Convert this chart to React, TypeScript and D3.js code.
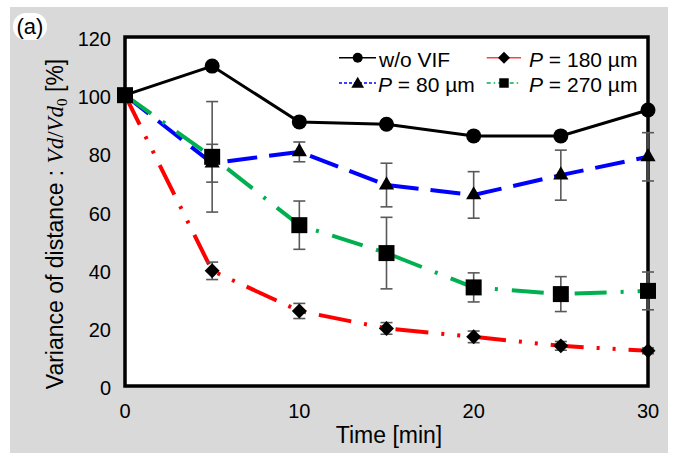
import React from "react";
import * as d3 from "d3";

const times = [0, 5, 10, 15, 20, 25, 30];
const woVIF = [100, 110, 90.8, 90, 86, 86, 94.9];
const p80 = [100, 76.6, 80.5, 69.1, 65.7, 72.5, 78.8];
const p80Err = [0, 6.5, 3.4, 7.5, 8, 8.6, 8.3];
const p180 = [100, 39.6, 25.8, 19.8, 16.9, 13.8, 12.1];
const p180Err = [0, 3, 2.6, 2, 2, 1.5, 1];
const p270 = [100, 78.8, 55.3, 45.7, 33.9, 31.6, 32.7];
const p270Err = [0, 19, 8.3, 12.3, 5, 6, 6.5];
const xTicks = [0, 10, 20, 30];
const yTicks = [0, 20, 40, 60, 80, 100, 120];

const W = 678, H = 453;
const L = 125, R = 648, T = 37, B = 386;

export default function App() {
  const x = d3.scaleLinear().domain([0, 30]).range([L, R]);
  const y = d3.scaleLinear().domain([0, 120]).range([B, T]);
  const line = d3.line<number>().x((_, i) => x(times[i])).y((v) => y(v));

  const sym = (type: any, size: number) => d3.symbol().type(type).size(size)() as string;
  const circleP = sym(d3.symbolCircle, 177);
  const triP = sym(d3.symbolTriangle, 100);
  const sqP = sym(d3.symbolSquare, 256);
  const diaP = sym(d3.symbolSquare, 112);

  const errBars = (vals: number[], errs: number[], key: string) =>
    vals.map((v, i) =>
      errs[i] > 0 ? (
        <g key={key + i} stroke="#595959" strokeWidth={1.6}>
          <line x1={x(times[i])} x2={x(times[i])} y1={y(v + errs[i])} y2={y(v - errs[i])} />
          <line x1={x(times[i]) - 6} x2={x(times[i]) + 6} y1={y(v + errs[i])} y2={y(v + errs[i])} />
          <line x1={x(times[i]) - 6} x2={x(times[i]) + 6} y1={y(v - errs[i])} y2={y(v - errs[i])} />
        </g>
      ) : null
    );

  const markers = (vals: number[], path: string, key: string, rot = 0) =>
    vals.map((v, i) => (
      <path key={key + i} d={path} fill="#000" transform={`translate(${x(times[i])},${y(v)}) rotate(${rot})`} />
    ));

  const font = "Arial, 'Liberation Sans', sans-serif";
  const serif = "'Liberation Serif', 'DejaVu Serif', serif";

  return (
    <svg width={W} height={H} style={{ position: "absolute", left: 0, top: 0 }} fontFamily={font}>
      <rect x={0} y={0} width={W} height={H} fill="#fff" />
      <rect x={10} y={7} width={658} height={446} fill="#d9d9d9" />
      <rect x={L} y={T} width={R - L} height={B - T} fill="#fff" stroke="#000" strokeWidth={3.5} />

      {/* (a) label */}
      <rect x={13} y={13} width={34} height={27} rx={13} fill="#fff" />
      <text x={30} y={34} fontSize={22} textAnchor="middle">(a)</text>

      {yTicks.map((t) => (
        <text key={"y" + t} x={111} y={y(t) + 9} fontSize={20} textAnchor="end">{t}</text>
      ))}
      {xTicks.map((t) => (
        <text key={"x" + t} x={x(t)} y={418} fontSize={20} textAnchor="middle">{t}</text>
      ))}
      <text x={389} y={443} fontSize={23} textAnchor="middle">Time [min]</text>
      <text transform="translate(63,224) rotate(-90)" fontSize={23} textAnchor="middle">
        Variance of distance :{" "}
        <tspan fontFamily={serif} fontStyle="italic">Vd</tspan>
        <tspan fontFamily={serif}>/</tspan>
        <tspan fontFamily={serif} fontStyle="italic">Vd</tspan>
        <tspan fontFamily={serif} fontSize={15} dy={4}>0</tspan>
        <tspan dy={-4}> [%]</tspan>
      </text>

      {/* lines */}
      <path d={line(woVIF) as string} fill="none" stroke="#000" strokeWidth={3} />
      <path d={line(p80) as string} fill="none" stroke="#0000ff" strokeWidth={4} strokeDasharray="30 12" />
      <path d={line(p180) as string} fill="none" stroke="#ff0000" strokeWidth={4} strokeDasharray="33 13 3 13 3 13" />
      <path d={line(p270) as string} fill="none" stroke="#00b050" strokeWidth={4} strokeDasharray="32 14 3 14" />

      {errBars(p80, p80Err, "e80")}
      {errBars(p180, p180Err, "e180")}
      {errBars(p270, p270Err, "e270")}

      {markers(woVIF, circleP, "m0")}
      {markers(p80, triP, "m80")}
      {markers(p180, diaP, "m180", 45)}
      {markers(p270, sqP, "m270")}

      {/* legend */}
      <line x1={339} x2={376} y1={57.7} y2={57.7} stroke="#000" strokeWidth={1.5} />
      <circle cx={357.7} cy={57.7} r={5} fill="#000" />
      <text x={379} y={66.7} fontSize={21}>w/o VIF</text>

      <line x1={339} x2={376} y1={83} y2={83} stroke="#0000ff" strokeWidth={1.3} strokeDasharray="3 2" />
      <path d={sym(d3.symbolTriangle, 70)} transform="translate(357.7,84)" fill="#000" />
      <text x={378} y={91.7} fontSize={21}>
        <tspan fontStyle="italic">P</tspan> = 80 µm
      </text>

      <line x1={486.7} x2={521} y1={57.7} y2={57.7} stroke="#ff4040" strokeWidth={1.5} />
      <path d={sym(d3.symbolSquare, 72)} transform="translate(504,57.7) rotate(45)" fill="#000" />
      <text x={529} y={66.7} fontSize={21}>
        <tspan fontStyle="italic">P</tspan> = 180 µm
      </text>

      <line x1={486.7} x2={521} y1={83} y2={83} stroke="#00b050" strokeWidth={1.3} strokeDasharray="4 3 1.5 3" />
      <path d={sym(d3.symbolSquare, 90)} transform="translate(504,83)" fill="#000" />
      <text x={529} y={91.7} fontSize={21}>
        <tspan fontStyle="italic">P</tspan> = 270 µm
      </text>
    </svg>
  );
}
